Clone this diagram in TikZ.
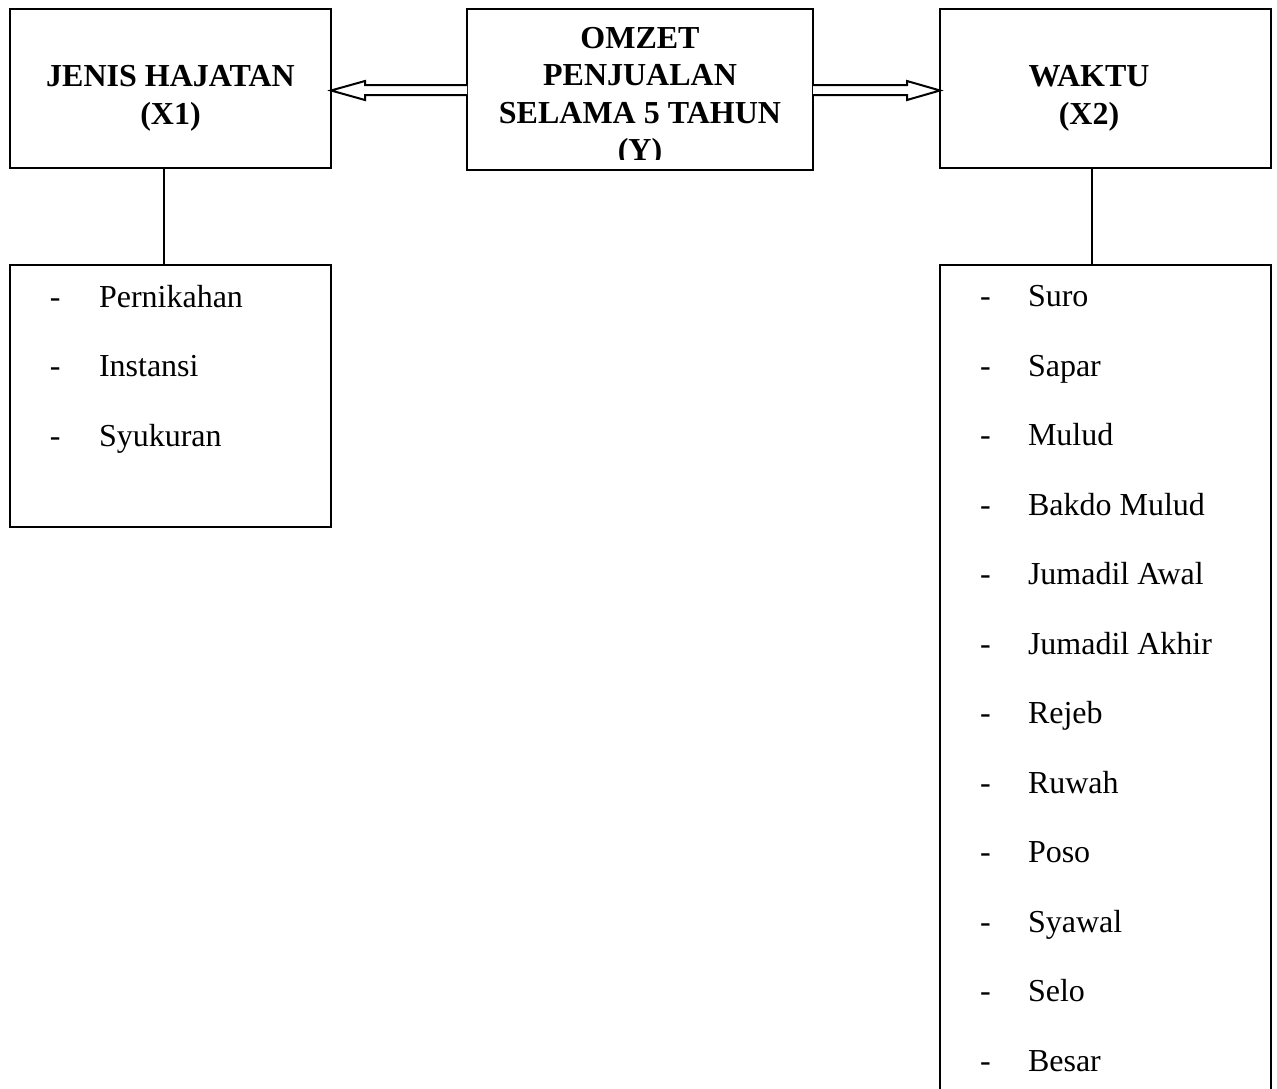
\documentclass[tikz,border=0pt]{standalone}
\usepackage{fontspec}
\setmainfont{Liberation Serif}
\newcommand\pxu{0.375pt}
\begin{document}
\begin{tikzpicture}[x=0.375pt,y=-0.375pt,line width=0.75pt,
  box/.style={draw,inner sep=0pt,outer sep=0pt},
  title/.style={font=\fontsize{12}{14.06}\selectfont\bfseries,align=center,inner sep=0pt,anchor=base},
  item/.style={font=\fontsize{12}{14}\selectfont,inner sep=0pt,anchor=base west},
  blockarr/.style={draw,fill=white,line join=miter}]
\clip (0,0) rectangle (1277,1089);
\fill[white] (0,0) rectangle (1277,1089);
% top boxes
\node[box,minimum width=321*\pxu,minimum height=159*\pxu] (x1) at (170.5,88.5) {};
\node[box,minimum width=346*\pxu,minimum height=161*\pxu] (y) at (640,89.5) {};
\node[box,minimum width=331*\pxu,minimum height=159*\pxu] (x2) at (1105.5,88.5) {};
\node[title] (x1t) at (170.5,124) {JENIS HAJATAN\\(X1)};
\node[title] (x2t) at (1089,124) {WAKTU\\(X2)};
\begin{scope}
  \clip (467,9) rectangle (813,159);
  \node[title] (yt) at (640,160.5) {OMZET\\PENJUALAN\\SELAMA 5 TAHUN\\(Y)};
\end{scope}
% list boxes
\node[box,minimum width=321*\pxu,minimum height=262*\pxu] (l1) at (170.5,396) {};
\node[box,minimum width=331*\pxu,minimum height=835*\pxu] (l2) at (1105.5,682.5) {};
% connectors
\coordinate (lj) at (164,0);
\coordinate (rj) at (1092,0);
\draw (x1.south -| lj) -- (l1.north -| lj);
\draw (x2.south -| rj) -- (l2.north -| rj);
% block arrows
\draw[blockarr] (y.west |- 0,85) -- (365,85) -- (365,81) -- (x1.east |- 0,90.5)
   -- (365,100) -- (365,95) -- (y.west |- 0,95);
\draw[blockarr] (y.east |- 0,85) -- (907,85) -- (907,81) -- (x2.west |- 0,90.5)
   -- (907,100) -- (907,95) -- (y.east |- 0,95);
% items
\foreach \t [count=\i] in {Pernikahan,Instansi,Syukuran}{
  \node[item] (a\i) at (98,{307+69.5*(\i-1)}) {\t};
  \node[item] (ad\i) at (49,{307+69.5*(\i-1)}) {-};
}
\foreach \t [count=\i] in {Suro,Sapar,Mulud,Bakdo Mulud,Jumadil Awal,Jumadil Akhir,Rejeb,Ruwah,Poso,Syawal,Selo,Besar}{
  \node[item] (b\i) at (1027,{306.5+69.5*(\i-1)}) {\t};
  \node[item] (bd\i) at (979,{306.5+69.5*(\i-1)}) {-};
}
\end{tikzpicture}
\end{document}
